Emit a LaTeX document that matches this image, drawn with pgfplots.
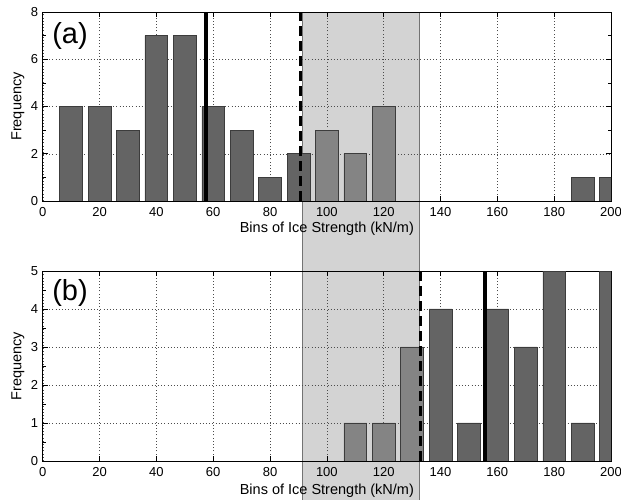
\documentclass[border=0pt]{standalone}
\usepackage{fontspec}
\setmainfont{Liberation Sans}
\usepackage{pgfplots}
\pgfplotsset{compat=1.18}
\definecolor{bardark}{RGB}{100,100,100}
\definecolor{barlight}{RGB}{132,132,132}
\definecolor{baredge}{RGB}{60,60,60}
\definecolor{shadegray}{RGB}{211,211,211}

\pgfplotsset{
  icepanel/.style={
    scale only axis, width=568.3pt,
    xmin=0, xmax=200, xtick={0,20,...,200},
    ymin=0,
    tick align=inside, xtick pos=both, ytick pos=both,
    major tick length=5pt, minor tick length=3pt,
    minor y tick num=1,
    grid=major,
    grid style={black!70, line width=0.4pt, dash pattern=on 1pt off 2.2pt},
    axis line style={line width=0.6pt},
    tick style={black, line width=0.5pt},
    ticklabel style={font=\fontsize{13}{13}\selectfont},
    xticklabel style={yshift=-3pt},
    yticklabel style={xshift=-1pt},
    /pgf/number format/assume math mode=true,
    xlabel={Bins of Ice Strength (kN/m)},
    ylabel={Frequency},
    label style={font=\fontsize{14.5}{14.5}\selectfont},
    ylabel style={at={(axis description cs:0,0.5)}, anchor=center, yshift=24.7pt},
    clip mode=individual,
    set layers,
  },
  icebar/.style={ybar, bar width=8, draw=baredge, line width=0.5pt, fill=#1},
}

\begin{document}
\begin{tikzpicture}

% (a)
\begin{axis}[icepanel,
    at={(42.7pt,299pt)}, anchor=south west, height=189pt,
    ymax=8, ytick={0,2,...,8},
    xlabel style={at={(axis description cs:0.5,0)}, anchor=base, yshift=-32pt},
]
\begin{pgfonlayer}{axis background}
\fill[shadegray] (axis cs:91.4,8) rectangle (axis cs:132.4,-12.66);
\draw[black!55, line width=0.5pt] (axis cs:91.4,8) -- (axis cs:91.4,-12.66)
    (axis cs:132.4,8) -- (axis cs:132.4,-12.66);
\end{pgfonlayer}
\addplot[icebar=bardark] coordinates {(10,4) (20,4) (30,3) (40,7) (50,7) (60,4) (70,3) (80,1) (90,2) (190,1) (200,1)};
\addplot[icebar=barlight] coordinates {(100,3) (110,2) (120,4)};
\addplot[black, line width=4.2pt] coordinates {(57.6,0) (57.6,8)};
\addplot[black, line width=2.6pt, dash pattern=on 10pt off 5pt] coordinates {(90.7,0) (90.7,8)};
\node[font=\fontsize{29}{29}\selectfont] at (axis cs:9.6,6.98) {(a)};
\end{axis}

% (b)
\begin{axis}[icepanel,
    at={(42.7pt,39pt)}, anchor=south west, height=190pt,
    ymax=5, ytick={0,1,...,5},
    xlabel style={at={(axis description cs:0.5,0)}, anchor=base, yshift=-34pt},
]
\addplot[icebar=barlight] coordinates {(110,1) (120,1) (130,3)};
\addplot[icebar=bardark] coordinates {(140,4) (150,1) (160,4) (170,3) (180,5) (190,1) (200,5)};
\addplot[black, line width=2.6pt, dash pattern=on 10pt off 5pt] coordinates {(133,0) (133,5)};
\addplot[black, line width=4.2pt] coordinates {(155.7,0) (155.7,5)};
\node[font=\fontsize{29}{29}\selectfont] at (axis cs:9.6,4.41) {(b)};
\end{axis}

\pgfresetboundingbox
\path (0,0) rectangle (621pt,500pt);
\end{tikzpicture}
\end{document}
